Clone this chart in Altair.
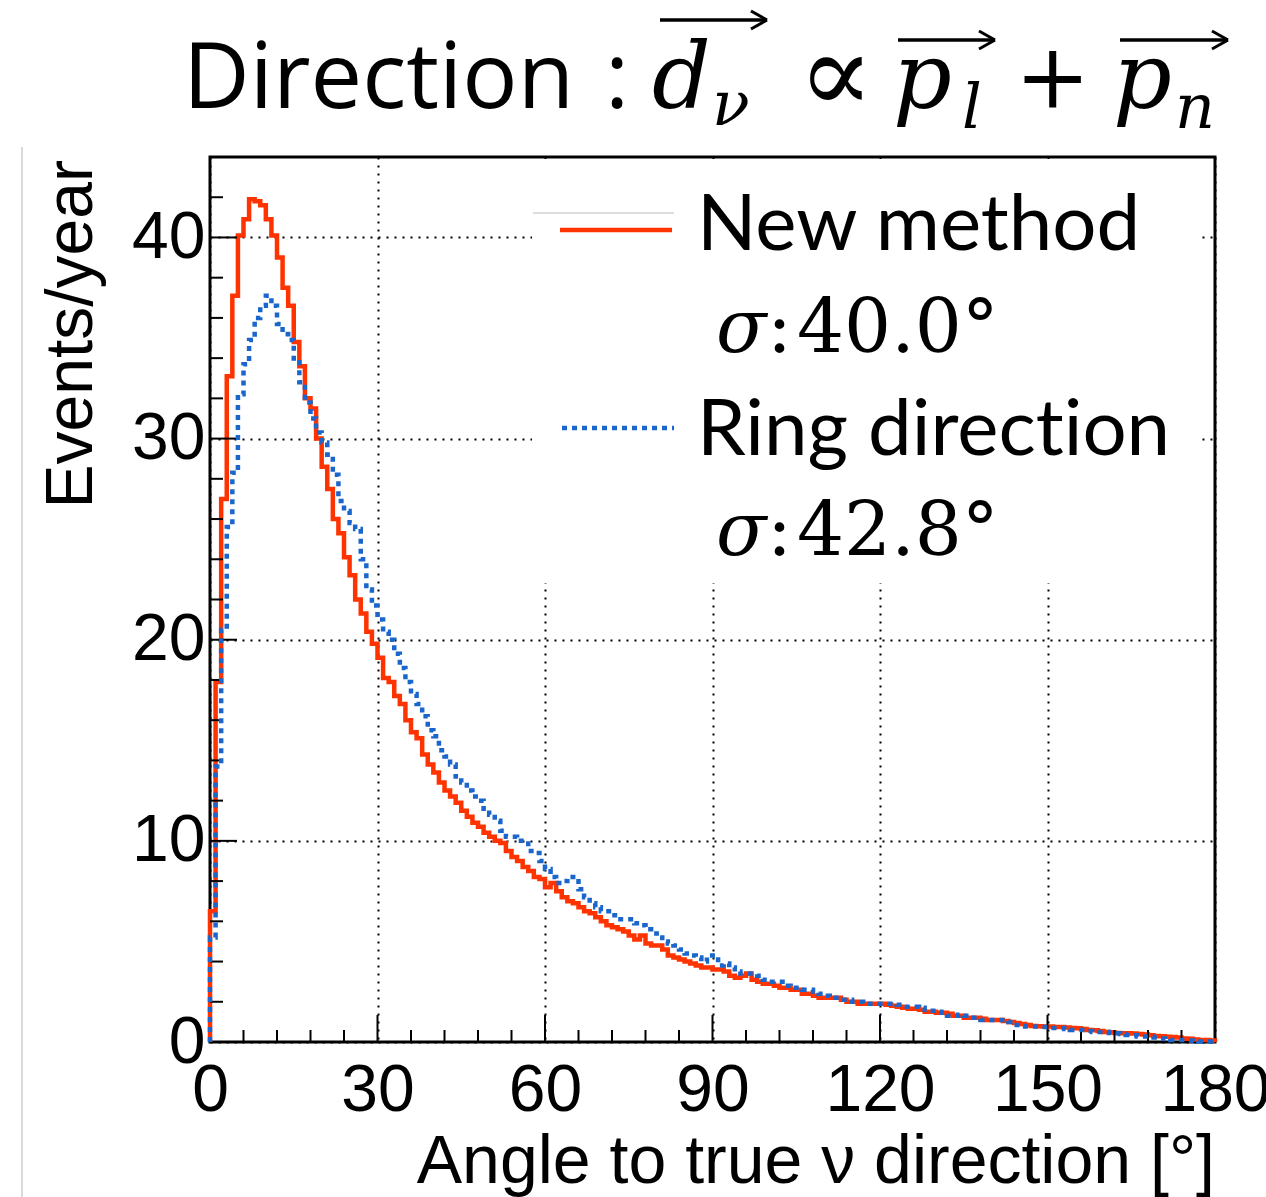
import altair as alt
import pandas as pd

# ---------------- data (1-degree bins, 0..179) ----------------
bin_start = list(range(0, 180))
bin_width = 1

new_method = [
    6.5, 17.9, 27.0, 33.1, 37.1, 40.1, 40.9, 41.9, 41.8, 41.6,
    40.9, 40.1, 39.0, 37.5, 36.6, 34.8, 33.6, 32.0, 31.5, 30.0,
    28.6, 27.5, 26.0, 25.3, 24.1, 23.2, 22.0, 21.3, 20.4, 19.8,
    19.1, 18.1, 17.9, 17.2, 16.8, 16.0, 15.4, 15.1, 14.3, 13.8,
    13.4, 12.9, 12.5, 12.2, 11.9, 11.5, 11.2, 10.9, 10.7, 10.4,
    10.2, 10.0, 9.9, 9.5, 9.2, 9.0, 8.7, 8.5, 8.2, 8.1,
    7.7, 7.9, 7.5, 7.2, 7.0, 6.9, 6.7, 6.5, 6.4, 6.2,
    6.0, 5.8, 5.7, 5.6, 5.5, 5.3, 5.1, 5.3, 4.9, 4.8,
    4.8, 4.6, 4.3, 4.2, 4.1, 4.0, 3.9, 3.8, 3.7, 3.7,
    3.6, 3.6, 3.5, 3.3, 3.2, 3.3, 3.4, 3.1, 3.0, 2.9,
    2.9, 2.8, 2.7, 2.7, 2.6, 2.6, 2.4, 2.4, 2.3, 2.2,
    2.2, 2.2, 2.2, 2.1, 2.0, 2.0, 1.9, 1.9, 1.9, 1.9,
    1.9, 1.85, 1.8, 1.75, 1.7, 1.65, 1.65, 1.6, 1.5, 1.5,
    1.45, 1.45, 1.4, 1.3, 1.3, 1.2, 1.2, 1.2, 1.15, 1.1,
    1.1, 1.1, 1.05, 1.0, 0.95, 0.9, 0.85, 0.8, 0.78, 0.77,
    0.77, 0.75, 0.75, 0.72, 0.7, 0.68, 0.65, 0.6, 0.58, 0.55,
    0.5, 0.48, 0.45, 0.43, 0.43, 0.42, 0.4, 0.37, 0.33, 0.3,
    0.28, 0.26, 0.25, 0.22, 0.18, 0.16, 0.12, 0.1, 0.1, 0.08,
]

ring_direction = [
    5.2, 13.7, 20.5, 25.6, 28.3, 32.2, 33.7, 34.9, 36.0, 36.6,
    37.1, 36.6, 35.7, 35.2, 34.9, 33.8, 32.8, 31.8, 31.0, 30.3,
    29.8, 29.2, 28.2, 26.9, 26.4, 25.8, 25.5, 24.0, 22.5, 21.7,
    21.0, 20.4, 20.0, 19.3, 18.6, 17.9, 17.3, 16.8, 16.2, 15.5,
    15.2, 14.5, 14.2, 13.8, 13.2, 12.9, 12.5, 12.2, 12.0, 11.6,
    11.3, 11.0, 10.5, 10.2, 10.2, 10.0, 10.0, 9.5, 9.4, 9.0,
    8.6, 8.2, 7.9, 8.0, 8.2, 8.2, 7.6, 7.2, 6.9, 6.7,
    6.5, 6.5, 6.3, 6.1, 6.1, 6.1, 5.9, 5.8, 5.6, 5.4,
    5.2, 5.0, 4.9, 4.8, 4.6, 4.4, 4.3, 4.2, 4.0, 4.3,
    4.3, 3.8, 3.9, 3.7, 3.5, 3.4, 3.4, 3.4, 3.3, 3.1,
    3.0, 3.0, 3.0, 2.8, 2.7, 2.7, 2.6, 2.6, 2.5, 2.4,
    2.3, 2.2, 2.2, 2.1, 2.1, 2.0, 2.0, 1.9, 1.9, 1.9,
    1.9, 1.9, 1.9, 1.85, 1.75, 1.75, 1.75, 1.7, 1.6, 1.55,
    1.5, 1.45, 1.3, 1.3, 1.35, 1.3, 1.2, 1.2, 1.1, 1.1,
    1.1, 1.1, 1.1, 1.0, 0.85, 0.8, 0.77, 0.77, 0.77, 0.75,
    0.7, 0.7, 0.7, 0.65, 0.6, 0.6, 0.6, 0.55, 0.5, 0.5,
    0.5, 0.45, 0.43, 0.4, 0.35, 0.33, 0.27, 0.27, 0.27, 0.22,
    0.18, 0.15, 0.1, 0.1, 0.1, 0.08, 0.05, 0.03, 0.03, 0.03,
]

x_label_values = [0, 30, 60, 90, 120, 150, 180]
y_label_values = [0, 10, 20, 30, 40]
x_minor_ticks = [v for v in range(6, 180, 6) if v % 30 != 0]
x_major_ticks = [30, 60, 90, 120, 150]
y_minor_ticks = [v for v in range(2, 44, 2) if v % 10 != 0]
y_major_ticks = [10, 20, 30, 40]

RED = "#ff3300"
BLUE = "#1a66cc"
OX, OY = 210, 157  # page position of the plot area's top-left corner
W, H = 1005, 885


def step_frame(values):
    rows = [{"angle": bin_start[0], "events": 0.0, "k": 0}]
    for i, v in enumerate(values):
        rows.append({"angle": bin_start[i], "events": v, "k": i + 1})
    end = bin_start[-1] + bin_width
    rows.append({"angle": end, "events": values[-1], "k": len(values) + 1})
    rows.append({"angle": end, "events": 0.0, "k": len(values) + 2})
    return pd.DataFrame(rows)


xscale = alt.Scale(domain=[0, 180], nice=False, zero=False)
yscale = alt.Scale(domain=[0, 44], nice=False, zero=False)

grid_common = dict(
    ticks=False, domain=False, grid=True, gridColor="black", gridDash=[2, 6],
    gridWidth=2, gridOpacity=1, title=None, labelFont="Liberation Sans",
    labelFontSize=66, labelColor="black", labelOverlap=False, format="d",
)
x_axis = alt.Axis(values=x_label_values, labelPadding=16, labelFlush=False, **grid_common)
y_axis = alt.Axis(values=y_label_values, labelPadding=5, **grid_common)

X = alt.X("angle:Q", scale=xscale, axis=x_axis)
Y = alt.Y("events:Q", scale=yscale, axis=y_axis)

red_line = alt.Chart(step_frame(new_method)).mark_line(
    interpolate="step-after", color=RED, strokeWidth=4.5
).encode(x=X, y=Y, order="k:Q")

blue_line = alt.Chart(step_frame(ring_direction)).mark_line(
    interpolate="step-after", color=BLUE, strokeWidth=4.5, strokeDash=[5, 5]
).encode(x=X, y=Y, order="k:Q")


def xticks(vals, length):
    return alt.Chart(pd.DataFrame({"angle": vals})).mark_rule(color="black", strokeWidth=2).encode(
        x=X, y=alt.value(H), y2=alt.value(H - length),
    )


def yticks(vals, length):
    return alt.Chart(pd.DataFrame({"events": vals})).mark_rule(color="black", strokeWidth=2).encode(
        y=Y, x=alt.value(0), x2=alt.value(length),
    )


def text(t, x, y, size, font, style="normal", align="left", angle=0, color="black"):
    return alt.Chart(pd.DataFrame({"t": [t]})).mark_text(
        x=x - OX, y=y - OY, fontSize=size, font=font, fontStyle=style,
        align=align, baseline="alphabetic", angle=angle, color=color,
    ).encode(text="t:N")


def seg(x1, y1, x2, y2, color="black", w=4, dash=None):
    kw = dict(color=color, strokeWidth=w)
    if dash:
        kw["strokeDash"] = dash
    return alt.Chart(pd.DataFrame({"a": [0]})).mark_rule(**kw).encode(
        x=alt.value(x1 - OX), y=alt.value(y1 - OY),
        x2=alt.value(x2 - OX), y2=alt.value(y2 - OY),
    )


def arrow(x1, x2, y):
    return [seg(x1, y, x2, y, w=3.5), seg(x2 - 16, y - 9, x2, y, w=3), seg(x2 - 16, y + 9, x2, y, w=3)]


legend_box = alt.Chart(pd.DataFrame({"a": [0]})).mark_rect(color="white").encode(
    x=alt.value(532 - OX), x2=alt.value(1199 - OX), y=alt.value(159 - OY), y2=alt.value(583 - OY)
)

SANS = "Liberation Sans"
CAL = "Lato"
TITLE = "Open Sans"
SERIF = "DejaVu Serif"
ZWNJ = "\u200c"

layers = [
    red_line,
    legend_box,
    xticks(x_minor_ticks, 12), xticks(x_major_ticks, 27),
    yticks(y_minor_ticks, 13), yticks(y_major_ticks, 27),
    blue_line,
    # legend
    seg(533, 213, 674, 213, color="#dddddd", w=2),
    seg(560, 230, 672, 230, color=RED, w=4.5),
    seg(562, 428, 674, 428, color=BLUE, w=4.5, dash=[5, 5]),
    text("New method", 697, 250, 78, CAL),
    text("σ", 716, 352, 74, SERIF, style="italic"),
    text(":", 767, 352, 74, SERIF),
    text("40.0°", 797, 352, 74, SERIF),
    text("Ring direct" + ZWNJ + "ion", 697, 455, 78, CAL),
    text("σ", 716, 555, 74, SERIF, style="italic"),
    text(":", 767, 555, 74, SERIF),
    text("42.8°", 797, 555, 74, SERIF),
    # axis titles
    text("Angle to true ν direction [°]", 1215, 1183, 68, SANS, align="right"),
    text("Events/year", 92, 160, 66, SANS, align="right", angle=270),
    # title
    text("Direction", 183, 108, 92, TITLE),
    text(":", 605, 108, 92, TITLE),
    text("d", 652, 108, 92, SERIF, style="italic"),
    text("ν", 712, 125, 62, SERIF, style="italic"),
    text("∝", 798, 112, 112, SERIF),
    text("p", 893, 108, 92, SERIF, style="italic"),
    text("l", 962, 128, 62, SERIF, style="italic"),
    text("+", 1015, 108, 90, SERIF),
    text("p", 1113, 108, 92, SERIF, style="italic"),
    text("n", 1175, 128, 62, SERIF, style="italic"),
    seg(22, 147, 22, 1197, color="#cccccc", w=1.5),
]
layers += arrow(660, 767, 20)
layers += arrow(898, 995, 40)
layers += arrow(1120, 1228, 40)

chart = alt.layer(*layers).properties(
    width=W, height=H,
    padding={"left": OX, "top": OY, "right": 1266 - OX - W, "bottom": 1197 - OY - H},
    autosize=alt.AutoSizeParams(type="none"),
    background="white",
).configure_view(stroke="black", strokeWidth=3)

chart.save("out.html", embed_options={"renderer": "svg", "actions": False})
